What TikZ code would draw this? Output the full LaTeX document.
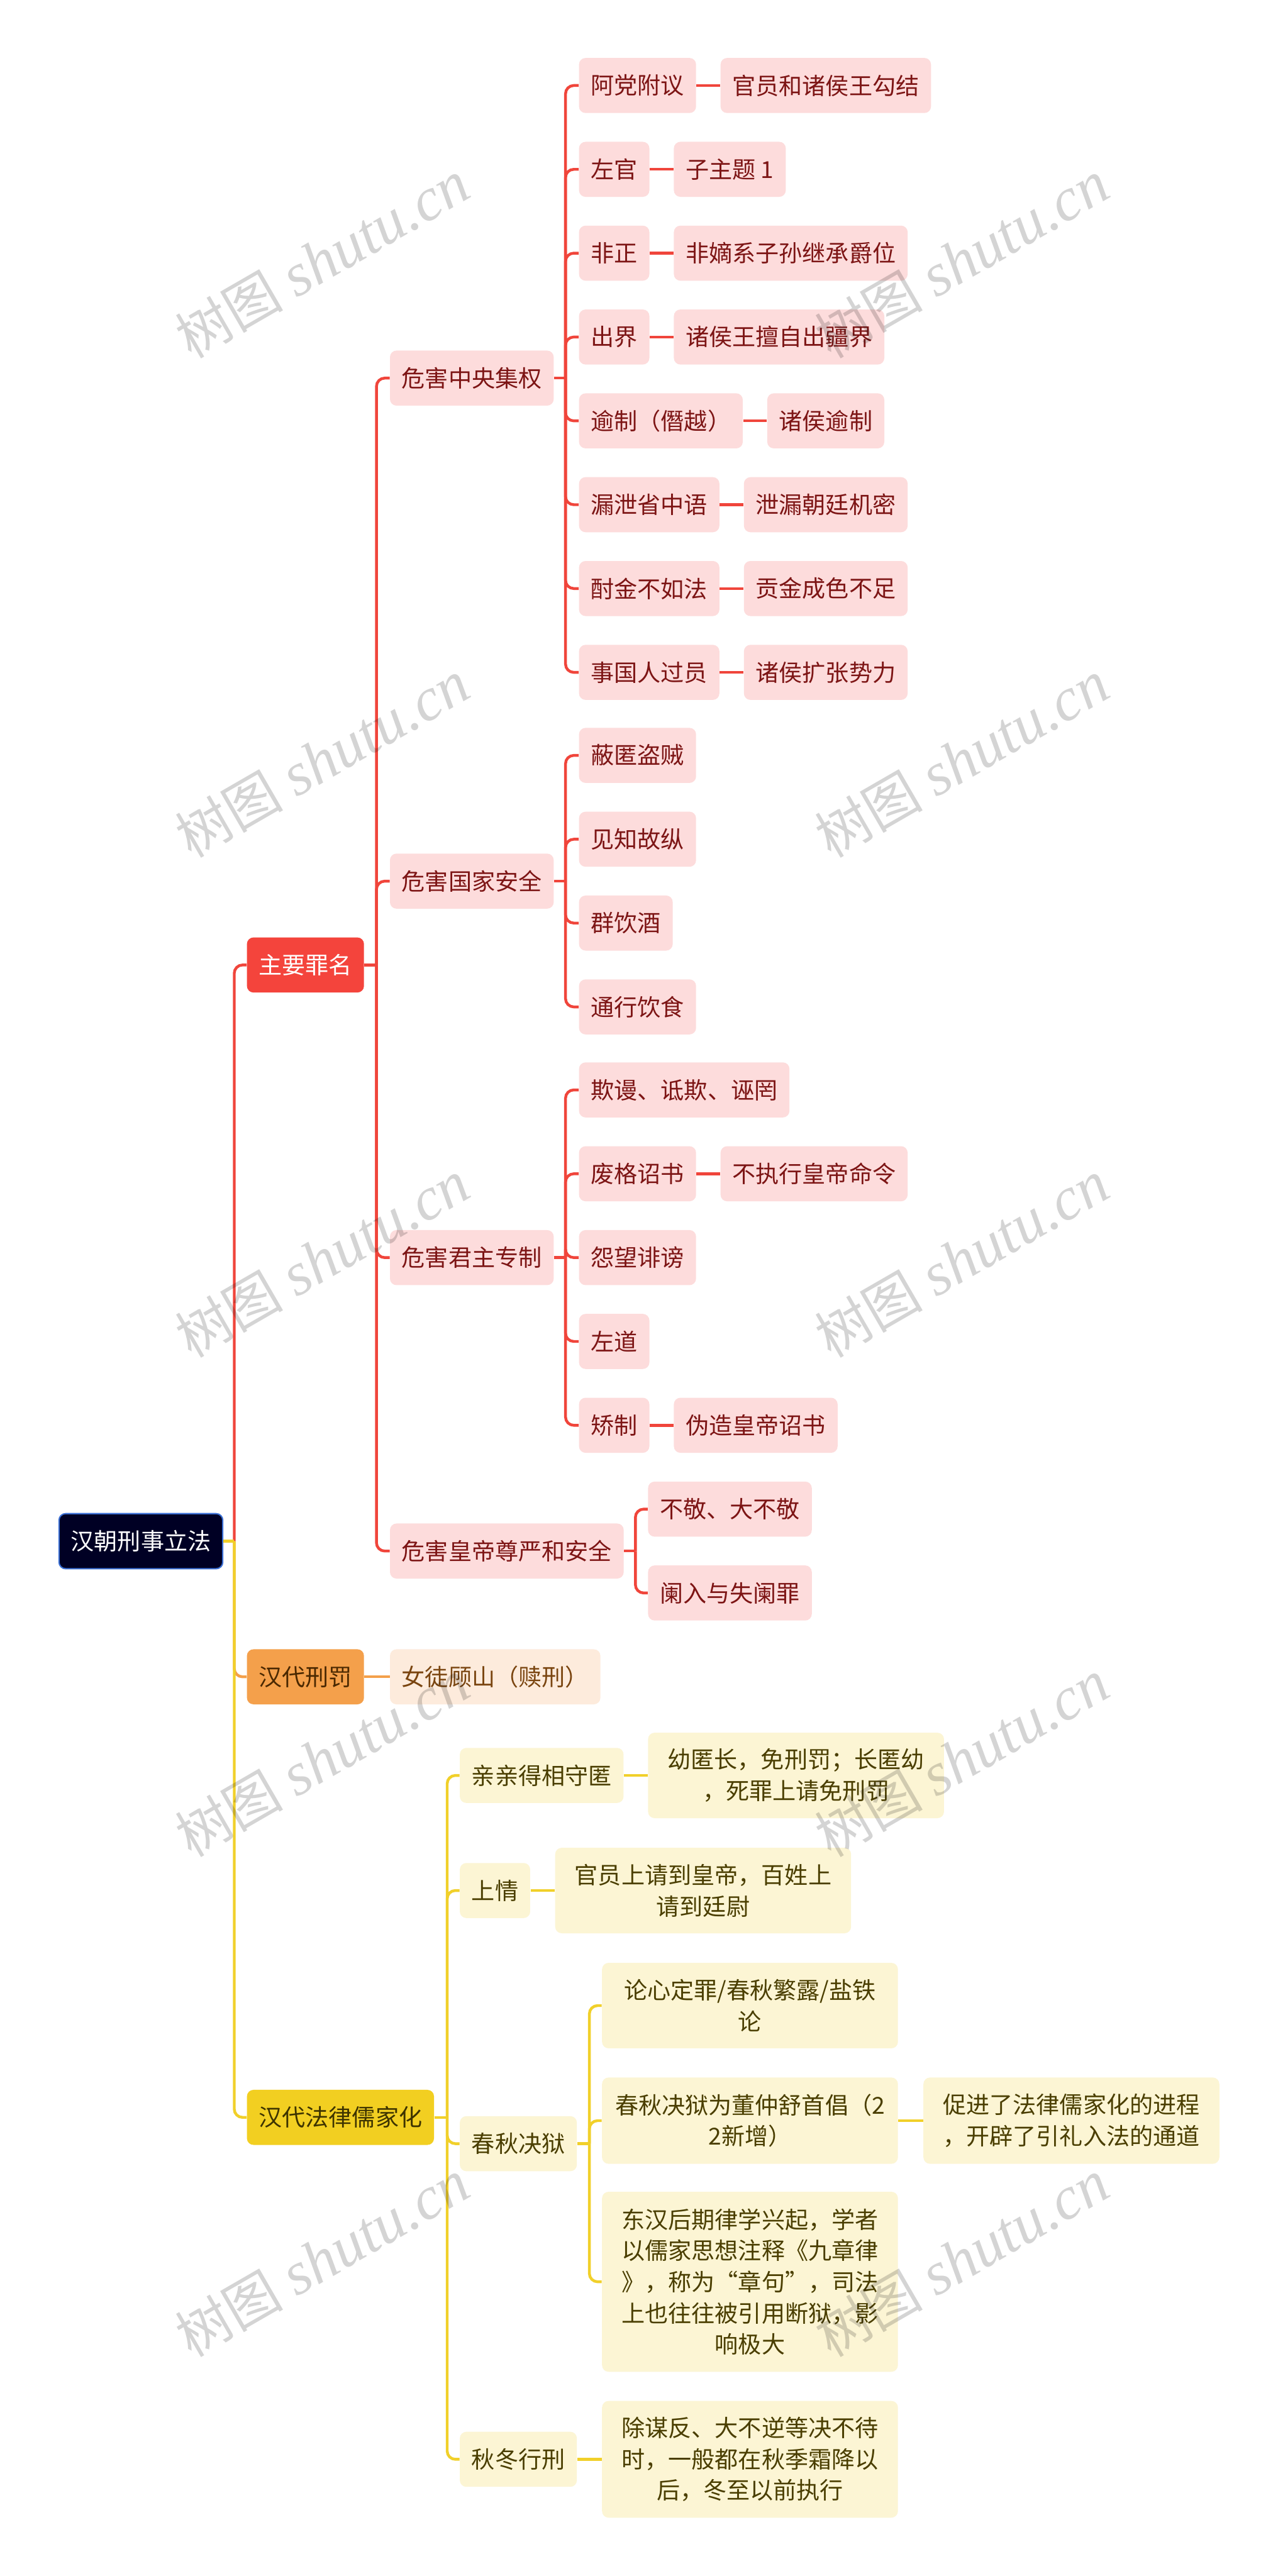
\documentclass[tikz,border=0pt]{standalone}
\usepackage{fontspec}
\setmainfont{Noto Sans CJK SC}
\newfontfamily\wmserif{Liberation Serif}
\newfontfamily\wmcjk{Noto Sans CJK SC}
\definecolor{redline}{HTML}{F0453B}
\definecolor{redfill}{HTML}{FDDCDC}
\definecolor{redtext}{HTML}{7D1515}
\definecolor{redmain}{HTML}{F4443C}
\definecolor{orgline}{HTML}{F4A04A}
\definecolor{orgmain}{HTML}{F4A04B}
\definecolor{orgfill}{HTML}{FDEBDC}
\definecolor{orgtext}{HTML}{7A4510}
\definecolor{orgmaintext}{HTML}{4A2800}
\definecolor{yelline}{HTML}{F1D02A}
\definecolor{yelmain}{HTML}{F2CF21}
\definecolor{yelfill}{HTML}{FCF5D4}
\definecolor{yeltext}{HTML}{4A3E00}
\definecolor{yelmaintext}{HTML}{3D3300}
\definecolor{rootfill}{HTML}{000024}
\definecolor{rootline}{HTML}{3B6FD4}
\tikzset{
  base/.style={rounded corners=4pt, inner xsep=7.2pt, inner ysep=0pt,
    minimum height=33.5pt, font=\fontsize{14.2}{19}\selectfont, anchor=west},
  rootbox/.style={base, fill=rootfill, draw=rootline, line width=0.8pt, text=white},
  redmainbox/.style={base, fill=redmain, text=white},
  redbox/.style={base, fill=redfill, text=redtext},
  orgmainbox/.style={base, fill=orgmain, text=orgmaintext},
  orgbox/.style={base, fill=orgfill, text=orgtext},
  yelmainbox/.style={base, fill=yelmain, text=yelmaintext},
  yelbox/.style={base, fill=yelfill, text=yeltext},
  yelwide/.style={yelbox, minimum width=180pt, inner xsep=0pt, align=center},
  rline/.style={draw=redline, line width=1.7pt, rounded corners=5pt},
  oline/.style={draw=orgline, line width=1.7pt, rounded corners=5pt},
  yline/.style={draw=yelline, line width=1.7pt, rounded corners=5pt},
  wm/.style={rotate=30, text=black, text opacity=0.17, inner sep=0pt},
}
\begin{document}
\begin{tikzpicture}[x=1pt, y=-1pt]
\fill[white] (0,0) rectangle (777,1567);
\useasboundingbox (0,0) rectangle (777,1567);

% root and level 1
\node[rootbox] (root) at (35.5,937.5) {汉朝刑事立法};
\node[redmainbox] (m1) at (150,587) {主要罪名};
\node[orgmainbox] (m2) at (150,1020) {汉代刑罚};
\node[yelmainbox] (m3) at (150,1288) {汉代法律儒家化};

% red level 2
\node[redbox] (a) at (237,230) {危害中央集权};
\node[redbox] (b) at (237,536) {危害国家安全};
\node[redbox] (c) at (237,765) {危害君主专制};
\node[redbox] (d) at (237,943.5) {危害皇帝尊严和安全};

% under a
\node[redbox] (a1) at (352,52) {阿党附议};
\node[redbox] (a2) at (352,103) {左官};
\node[redbox] (a3) at (352,154) {非正};
\node[redbox] (a4) at (352,205) {出界};
\node[redbox] (a5) at (352,256) {逾制（僭越）};
\node[redbox] (a6) at (352,307) {漏泄省中语};
\node[redbox] (a7) at (352,358) {酎金不如法};
\node[redbox] (a8) at (352,409) {事国人过员};
\node[redbox] (a1d) at ([xshift=14.5pt]a1.east) {官员和诸侯王勾结};
\node[redbox] (a2d) at ([xshift=14.5pt]a2.east) {子主题 1};
\node[redbox] (a3d) at ([xshift=14.5pt]a3.east) {非嫡系子孙继承爵位};
\node[redbox] (a4d) at ([xshift=14.5pt]a4.east) {诸侯王擅自出疆界};
\node[redbox] (a5d) at ([xshift=14.5pt]a5.east) {诸侯逾制};
\node[redbox] (a6d) at ([xshift=14.5pt]a6.east) {泄漏朝廷机密};
\node[redbox] (a7d) at ([xshift=14.5pt]a7.east) {贡金成色不足};
\node[redbox] (a8d) at ([xshift=14.5pt]a8.east) {诸侯扩张势力};

% under b
\node[redbox] (b1) at (352,459.5) {蔽匿盗贼};
\node[redbox] (b2) at (352,510.5) {见知故纵};
\node[redbox] (b3) at (352,561.5) {群饮酒};
\node[redbox] (b4) at (352,612.5) {通行饮食};

% under c
\node[redbox] (c1) at (352,663) {欺谩、诋欺、诬罔};
\node[redbox] (c2) at (352,714) {废格诏书};
\node[redbox] (c3) at (352,765) {怨望诽谤};
\node[redbox] (c4) at (352,816) {左道};
\node[redbox] (c5) at (352,867) {矫制};
\node[redbox] (c2d) at ([xshift=14.5pt]c2.east) {不执行皇帝命令};
\node[redbox] (c5d) at ([xshift=14.5pt]c5.east) {伪造皇帝诏书};

% under d
\node[redbox] (d1) at (394,918) {不敬、大不敬};
\node[redbox] (d2) at (394,969) {阑入与失阑罪};

% orange
\node[orgbox] (e1) at (237,1020) {女徒顾山（赎刑）};

% yellow
\node[yelbox] (f1) at (279.5,1080) {亲亲得相守匿};
\node[yelwide, minimum height=52pt] (f1d) at (394,1080) {幼匿长，免刑罚；长匿幼\\，死罪上请免刑罚};
\node[yelbox] (f2) at (279.5,1150) {上情};
\node[yelwide, minimum height=52pt] (f2d) at (337.5,1150) {官员上请到皇帝，百姓上\\请到廷尉};
\node[yelbox] (f3) at (279.5,1304) {春秋决狱};
\node[yelwide, minimum height=52pt] (g1) at (366,1220) {论心定罪/春秋繁露/盐铁\\论};
\node[yelwide, minimum height=52.5pt] (g2) at (366,1290) {春秋决狱为董仲舒首倡（2\\2新增）};
\node[yelwide, minimum height=52.5pt] (g2d) at (561.5,1290) {促进了法律儒家化的进程\\，开辟了引礼入法的通道};
\node[yelwide, minimum height=109.5pt] (g3) at (366,1388) {东汉后期律学兴起，学者\\以儒家思想注释《九章律\\》，称为“章句”，司法\\上也往往被引用断狱，影\\响极大};
\node[yelbox] (f4) at (279.5,1496) {秋冬行刑};
\node[yelwide, minimum height=71pt] (f4d) at (366,1496) {除谋反、大不逆等决不待\\时，一般都在秋季霜降以\\后，冬至以前执行};

% junctions
\coordinate (jr) at (142.5,937.5);
\coordinate (jm1) at (229,587);
\coordinate (ja) at (344,230);
\coordinate (jb) at (344,536);
\coordinate (jc) at (344,765);
\coordinate (jd) at (386.5,943.5);
\coordinate (jm3) at (272,1288);
\coordinate (jf3) at (358.5,1304);

% root connectors
\draw[rline] (jr) |- (m1.west);
\draw[oline] (jr) |- (m2.west);
\draw[yline] (root.east) -- (jr);
\draw[yline] (jr) |- (m3.west);

% red
\draw[rline] (m1.east) -- (jm1);
\foreach \n in {a,b,c,d} \draw[rline] (jm1) |- (\n.west);
\draw[rline] (a.east) -- (ja);
\foreach \n in {a1,a2,a3,a4,a5,a6,a7,a8} \draw[rline] (ja) |- (\n.west);
\foreach \n in {a1,a2,a3,a4,a5,a6,a7,a8} \draw[rline] (\n.east) -- (\n d.west);
\draw[rline] (b.east) -- (jb);
\foreach \n in {b1,b2,b3,b4} \draw[rline] (jb) |- (\n.west);
\draw[rline] (c.east) -- (jc);
\foreach \n in {c1,c2,c3,c4,c5} \draw[rline] (jc) |- (\n.west);
\draw[rline] (c2.east) -- (c2d.west);
\draw[rline] (c5.east) -- (c5d.west);
\draw[rline] (d.east) -- (jd);
\foreach \n in {d1,d2} \draw[rline] (jd) |- (\n.west);

% orange
\draw[oline] (m2.east) -- (e1.west);

% yellow
\draw[yline] (m3.east) -- (jm3);
\foreach \n in {f1,f2,f3,f4} \draw[yline] (jm3) |- (\n.west);
\draw[yline] (f1.east) -- (f1d.west);
\draw[yline] (f2.east) -- (f2d.west);
\draw[yline] (f4.east) -- (f4d.west);
\draw[yline] (f3.east) -- (jf3);
\foreach \n in {g1,g2,g3} \draw[yline] (jf3) |- (\n.west);
\draw[yline] (g2.east) -- (g2d.west);

% watermarks
\foreach \i/\yy in {1/158,2/462,3/766,4/1070,5/1374} {
  \node[wm] (wl\i) at (196,\yy) {{\wmcjk\fontsize{33}{33}\selectfont 树图}\hspace{8pt}{\wmserif\itshape\fontsize{37}{37}\selectfont shutu.cn}};
  \node[wm] (wr\i) at (585,\yy) {{\wmcjk\fontsize{33}{33}\selectfont 树图}\hspace{8pt}{\wmserif\itshape\fontsize{37}{37}\selectfont shutu.cn}};
}
\end{tikzpicture}
\end{document}
